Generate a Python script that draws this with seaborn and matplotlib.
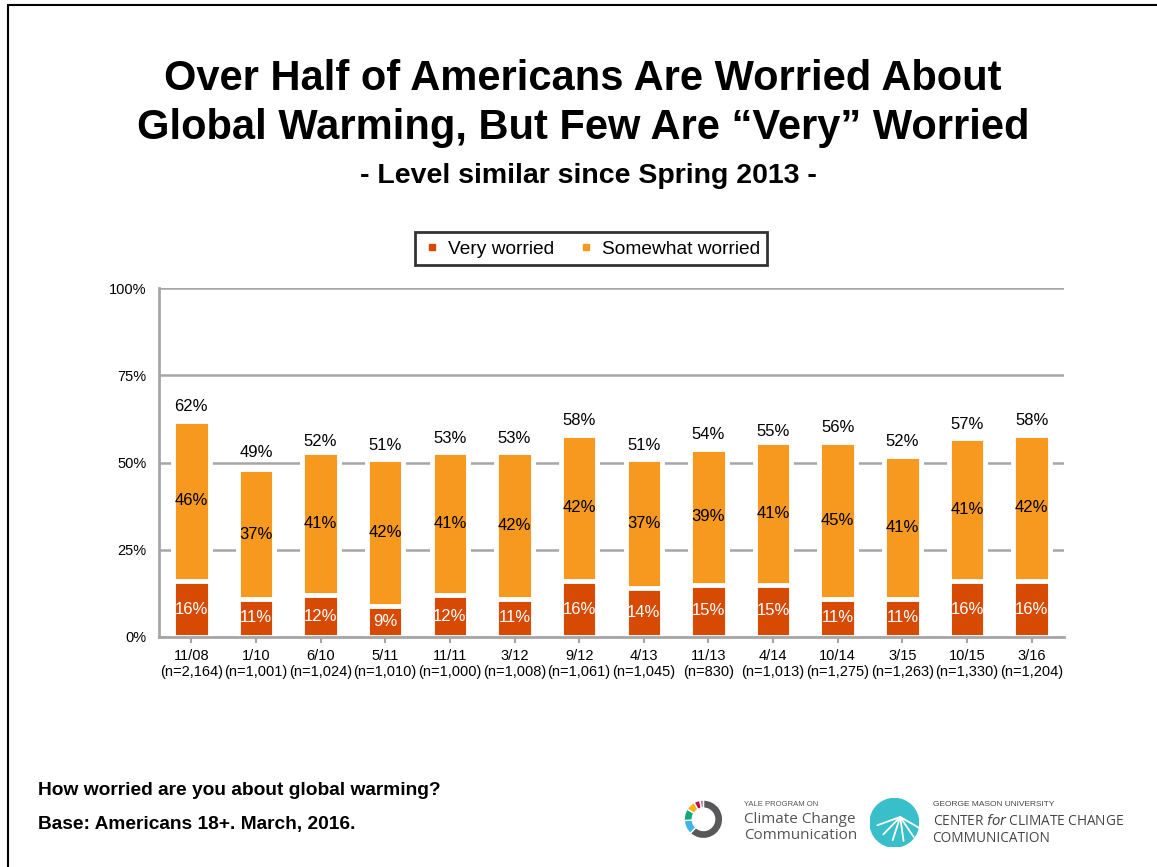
import numpy as np
import pandas as pd
import matplotlib
matplotlib.use("Agg")
import matplotlib.pyplot as plt
import seaborn as sns
from matplotlib.lines import Line2D
from matplotlib.patches import Circle

# =====================================================
# DATA
# =====================================================

dates = ["11/08", "1/10", "6/10", "5/11", "11/11", "3/12", "9/12",
         "4/13", "11/13", "4/14", "10/14", "3/15", "10/15", "3/16"]
sample_n = ["2,164", "1,001", "1,024", "1,010", "1,000", "1,008", "1,061",
            "1,045", "830", "1,013", "1,275", "1,263", "1,330", "1,204"]
very = [16, 11, 12, 9, 12, 11, 16, 14, 15, 15, 11, 11, 16, 16]
somewhat = [46, 37, 41, 42, 41, 42, 42, 37, 39, 41, 45, 41, 41, 42]
total = [62, 49, 52, 51, 53, 53, 58, 51, 54, 55, 56, 52, 57, 58]
y_ticks = [0, 25, 50, 75, 100]

# logo ring shares (decoration only)
ring_shares = [62, 12, 10, 8, 5, 3]
ring_colors = ["#58585A", "#3DB5E6", "#13A77C", "#F5B31B", "#B5123E", "#B774A8"]

VERY_C = "#D64A04"
SOME_C = "#F7991F"
GRID_C = "#A6A6A6"

# =====================================================
# FIGURE
# =====================================================

sns.set_theme(style="white")
plt.rcParams["font.family"] = ["Liberation Sans", "DejaVu Sans"]
plt.rcParams["text.color"] = "black"
plt.rcParams["xtick.labelcolor"] = "black"
plt.rcParams["ytick.labelcolor"] = "black"

fig = plt.figure(figsize=(11.57, 8.67), dpi=100)
ax = fig.add_axes([0.1374, 0.2653, 0.9196 - 0.1374, 0.6678 - 0.2653])

df = pd.DataFrame({
    "label": [f"{d}\n(n={n})" for d, n in zip(dates, sample_n)],
    "stack": np.array(very) + np.array(somewhat),
    "very": very,
})

bar_w = 0.565
sns.barplot(data=df, x="label", y="stack", color=SOME_C, width=bar_w,
            edgecolor="white", linewidth=3.5, saturation=1, ax=ax)
sns.barplot(data=df, x="label", y="very", color=VERY_C, width=bar_w,
            edgecolor="white", linewidth=3.5, saturation=1, ax=ax)

# value labels
for i in range(len(dates)):
    ax.text(i, very[i] / 2, f"{very[i]}%", ha="center", va="center",
            color="white", fontsize=12)
    ax.text(i, very[i] + somewhat[i] / 2, f"{somewhat[i]}%", ha="center",
            va="center", color="black", fontsize=12)
    ax.text(i, total[i] + 4, f"{total[i]}%", ha="center", va="center",
            color="black", fontsize=12)

# axes styling
ax.set_ylim(0, 100)
ax.set_xlim(-0.5, len(dates) - 0.5)
ax.set_yticks(y_ticks)
ax.set_yticklabels([f"{t}%" for t in y_ticks])
ax.set_xlabel("")
ax.set_ylabel("")
ax.yaxis.grid(True, color=GRID_C, linewidth=1.8)
ax.set_axisbelow(True)
for s in ["top", "right"]:
    ax.spines[s].set_visible(False)
for s in ["left", "bottom"]:
    ax.spines[s].set_color(GRID_C)
    ax.spines[s].set_linewidth(2)
ax.tick_params(axis="y", length=0, pad=9, labelsize=10.5)
ax.tick_params(axis="x", length=4, width=1.5, color=GRID_C, pad=5,
               labelsize=10.5, bottom=True)
for t in ax.get_xticklabels():
    t.set_linespacing(1.1)

# legend
handles = [
    Line2D([], [], marker="s", linestyle="", color=VERY_C, markersize=4),
    Line2D([], [], marker="s", linestyle="", color=SOME_C, markersize=4),
]
leg = fig.legend(handles, ["Very worried", "Somewhat worried"],
                 loc="center", bbox_to_anchor=(0.511, 0.713), ncol=2,
                 fontsize=13.8, frameon=True, fancybox=False,
                 handlelength=1.0, handletextpad=0.3, columnspacing=1.2,
                 borderpad=0.4)
leg.get_frame().set_edgecolor("black")
leg.get_frame().set_linewidth(2)
for t in leg.get_texts():
    t.set_color("black")

# =====================================================
# TITLES AND NOTES
# =====================================================

fig.text(0.504, 0.909, "Over Half of Americans Are Worried About",
         ha="center", va="center", fontsize=30, fontweight="bold")
fig.text(0.504, 0.852, "Global Warming, But Few Are \u201cVery\u201d Worried",
         ha="center", va="center", fontsize=30, fontweight="bold")
fig.text(0.509, 0.797, "- Level similar since Spring 2013 -",
         ha="center", va="center", fontsize=20.5, fontweight="bold")

fig.text(0.033, 0.088, "How worried are you about global warming?",
         ha="left", va="center", fontsize=13.8, fontweight="bold")
fig.text(0.033, 0.049, "Base: Americans 18+. March, 2016.",
         ha="left", va="center", fontsize=13.8, fontweight="bold")

# frame lines
fig.add_artist(Line2D([0.0065, 0.0065], [0, 0.9945], color="black", lw=1.5))
fig.add_artist(Line2D([0.0065, 1.0], [0.9945, 0.9945], color="black", lw=1.5))

# =====================================================
# LOGOS (simple)
# =====================================================

lax = fig.add_axes([0.591, 0.032, 0.034, 0.046])
lax.pie(ring_shares, colors=ring_colors, startangle=90, counterclock=False,
        wedgeprops=dict(width=0.42))
lax.set_xlim(-1.02, 1.02)
lax.set_ylim(-1.02, 1.02)
lax.set_aspect("equal")

fig.text(0.643, 0.072, "YALE PROGRAM ON", fontsize=5.5, color="#555555",
         ha="left", va="center")
fig.text(0.643, 0.055, "Climate Change", fontsize=11, color="#555555",
         ha="left", va="center", family="Open Sans")
fig.text(0.643, 0.036, "Communication", fontsize=11, color="#555555",
         ha="left", va="center", family="Open Sans")

gax = fig.add_axes([0.752, 0.022, 0.042, 0.058])
gax.add_patch(Circle((0.5, 0.5), 0.5, color="#38BFC9"))
for ang in np.linspace(200, 330, 6):
    r = np.deg2rad(ang)
    gax.plot([0.62, 0.62 + 0.5 * np.cos(r)], [0.62, 0.62 + 0.5 * np.sin(r)],
             color="white", lw=1.3)
gax.set_xlim(0, 1)
gax.set_ylim(0, 1)
gax.set_aspect("equal")
gax.axis("off")

fig.text(0.806, 0.072, "GEORGE MASON UNIVERSITY", fontsize=6, color="#444444",
         ha="left", va="center")
fig.text(0.806, 0.052, "CENTER $\\it{for}$ CLIMATE CHANGE", fontsize=9.8,
         color="#444444", ha="left", va="center", family="Open Sans")
fig.text(0.806, 0.033, "COMMUNICATION", fontsize=9.8, color="#444444",
         ha="left", va="center", family="Open Sans")

fig.savefig("out.png", dpi=100, facecolor="white")
